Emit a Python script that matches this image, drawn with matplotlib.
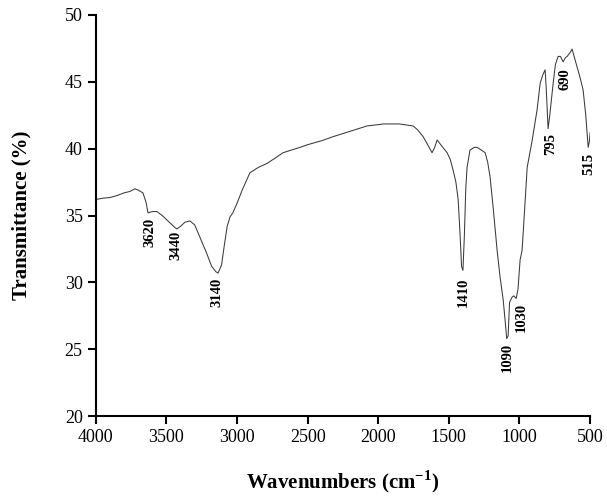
import matplotlib.pyplot as plt
import matplotlib as mpl

mpl.rcParams["font.family"] = ["Liberation Serif", "DejaVu Serif"]
mpl.rcParams["mathtext.fontset"] = "custom"
mpl.rcParams["mathtext.rm"] = "Liberation Serif"
mpl.rcParams["mathtext.bf"] = "Liberation Serif:bold"

# FTIR spectrum
wavenumber = [4000, 3950, 3900, 3850, 3800, 3760, 3724, 3700, 3667, 3645, 3631, 3600,
              3568, 3530, 3480, 3440, 3426, 3400, 3370, 3334, 3300, 3260, 3220, 3180,
              3150, 3135, 3110, 3090, 3070, 3050, 3030, 3001, 2960, 2909, 2850, 2788,
              2730, 2674, 2600, 2554, 2500, 2400, 2320, 2200, 2080, 2000, 1966, 1850,
              1753, 1720, 1682, 1650, 1619, 1600, 1583, 1550, 1512, 1490, 1470, 1450,
              1434, 1420, 1410, 1400, 1390, 1380, 1371, 1350, 1320, 1300, 1270, 1243,
              1225, 1208, 1186, 1158, 1137, 1115, 1100, 1090, 1080, 1070, 1052, 1040,
              1023, 1010, 995, 981, 960, 945, 910, 875, 853, 835, 818, 810, 797, 785,
              761, 745, 726, 710, 690, 675, 662, 640, 627, 610, 591, 570, 549, 530,
              513, 505, 499]
transmittance = [36.2, 36.3, 36.35, 36.5, 36.7, 36.8, 37.0, 36.9, 36.7, 36.0, 35.2, 35.3,
                 35.3, 35.0, 34.5, 34.1, 34.0, 34.2, 34.5, 34.6, 34.3, 33.3, 32.3, 31.2,
                 30.8, 30.7, 31.3, 32.8, 34.2, 34.9, 35.2, 35.9, 37.0, 38.2, 38.6, 38.9,
                 39.3, 39.7, 39.95, 40.1, 40.3, 40.6, 40.9, 41.3, 41.7, 41.8, 41.85, 41.85,
                 41.7, 41.4, 40.9, 40.3, 39.7, 40.1, 40.65, 40.2, 39.7, 39.2, 38.4, 37.5,
                 36.2, 33.5, 31.2, 30.9, 33.5, 37.0, 38.6, 39.9, 40.1, 40.1, 39.9, 39.7,
                 39.0, 37.9, 35.6, 32.4, 30.4, 28.7, 27.0, 25.8, 26.0, 28.5, 28.9, 29.0,
                 28.8, 29.5, 31.7, 32.4, 36.0, 38.6, 40.6, 42.9, 44.9, 45.5, 45.9, 44.5,
                 41.5, 42.5, 44.9, 46.3, 46.9, 46.9, 46.5, 46.8, 46.9, 47.2, 47.45, 46.8,
                 46.1, 45.3, 44.4, 42.5, 40.1, 40.5, 41.2]

# peak labels: text, x, top of text (data units)
peak_labels = ["3620", "3440", "3140", "1410", "1090", "1030", "795", "690", "515"]
peak_x = [3617, 3433, 3142, 1399, 1087, 988, 777, 676, 506]
peak_y = [34.8, 33.9, 30.35, 30.35, 25.45, 28.45, 41.2, 46.0, 39.7]

fig = plt.figure(figsize=(6.07, 4.99), dpi=100)
ax = fig.add_axes([0.158, 0.166, 0.814, 0.804])
ax.plot(wavenumber, transmittance, color="#3a3a3a", lw=0.75)

for t, x, y in zip(peak_labels, peak_x, peak_y):
    ax.text(x, y, t, rotation=90, ha="center", va="top", fontsize=10.5, fontweight="bold")

ax.set_xlim(4000, 500)
ax.set_ylim(20, 50)
ax.set_xticks([4000, 3500, 3000, 2500, 2000, 1500, 1000, 500])
ax.set_yticks([20, 25, 30, 35, 40, 45, 50])
ax.spines["top"].set_visible(False)
ax.spines["right"].set_visible(False)
ax.spines["left"].set_linewidth(1.5)
ax.spines["bottom"].set_linewidth(1.5)
ax.tick_params(direction="out", length=6, width=1.5, labelsize=13)
ax.set_xlabel(r"Wavenumbers (cm$^{\mathbf{-1}}$)", fontsize=15, fontweight="bold", labelpad=16)
ax.set_ylabel("Transmittance (%)", fontsize=15, fontweight="bold", labelpad=24)

fig.savefig("out.png", dpi=100)
